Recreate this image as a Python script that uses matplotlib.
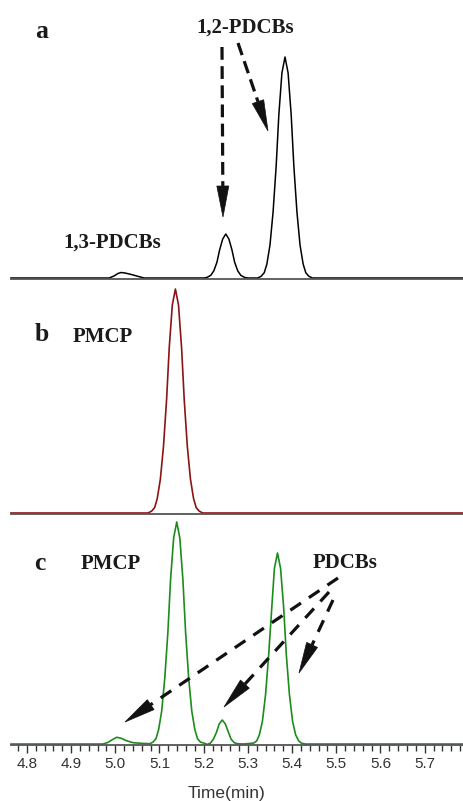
import matplotlib
matplotlib.use("Agg")
import matplotlib.pyplot as plt
from matplotlib.lines import Line2D
from matplotlib.patches import Polygon
from matplotlib.ticker import MultipleLocator
import numpy as np

W, H = 464, 801

# trace a: 1,3-PDCBs and 1,2-PDCBs standard
t_a = [4.764, 4.986, 4.997, 5.006, 5.013, 5.022, 5.038, 5.051, 5.065,
       5.200, 5.207, 5.216, 5.223, 5.230, 5.236, 5.243, 5.250, 5.257, 5.264,
       5.270, 5.277, 5.284, 5.293, 5.300,
       5.322, 5.330, 5.337, 5.343, 5.350, 5.357, 5.364, 5.370, 5.377, 5.384,
       5.391, 5.398, 5.404, 5.411, 5.418, 5.425, 5.431, 5.438, 5.446, 5.789]
sig_a = [0, 0, 2, 4.5, 5.5, 5, 3.3, 1.7, 0,
         0, 0.5, 2.6, 7.2, 15.8, 28, 39, 44, 39, 28,
         15.8, 7.2, 2.6, 0.5, 0,
         0, 1.7, 5.3, 14, 33, 66, 112, 163, 205, 221,
         205, 163, 112, 66, 33, 14, 5.3, 1.7, 0, 0]

# trace b: PMCP standard
t_b = [4.764, 5.074, 5.082, 5.089, 5.095, 5.102, 5.109, 5.116, 5.122, 5.129,
       5.136, 5.143, 5.150, 5.156, 5.163, 5.170, 5.177, 5.183, 5.190, 5.198, 5.789]
sig_b = [0, 0, 1.8, 5.4, 14.6, 34, 66.5, 113, 165, 208,
         224, 208, 165, 113, 66.5, 34, 14.6, 5.4, 1.8, 0, 0]

# trace c: mixture
t_c = [4.764, 4.972, 4.983, 4.992, 5.003, 5.013, 5.024, 5.040, 5.062, 5.078,
       5.085, 5.092, 5.098, 5.105, 5.112, 5.119, 5.125, 5.132, 5.139,
       5.146, 5.153, 5.159, 5.166, 5.173, 5.180, 5.186, 5.193,
       5.200, 5.208, 5.215, 5.222, 5.229, 5.235, 5.242, 5.249, 5.256,
       5.262, 5.269, 5.276, 5.290,
       5.313, 5.320, 5.326, 5.333, 5.340, 5.347, 5.354, 5.360, 5.367,
       5.374, 5.381, 5.387, 5.394, 5.401, 5.408, 5.415, 5.421, 5.430, 5.789]
sig_c = [0, 0, 1.5, 4, 6.7, 5.8, 3.5, 1.3, 0.6, 0.3,
         1.8, 5.3, 14.4, 33, 66, 112, 164, 206, 222,
         206, 164, 112, 66, 33, 14.4, 5.3, 1.8,
         1.0, -0.4, 0.8, 4.8, 11.7, 20, 24, 20, 11.7,
         4.8, 1.3, 0.3, 0,
         0.9, 3.1, 9.2, 23, 49.5, 89, 136, 175.5, 191,
         175.5, 136, 89, 49.5, 23, 9.2, 3.1, 0.9, 0, 0]

tick_labels = ["4.8", "4.9", "5.0", "5.1", "5.2", "5.3", "5.4", "5.5", "5.6", "5.7"]

fig = plt.figure(figsize=(W / 100, H / 100), dpi=100)


def fx(x):
    return x / W


def fy(y):
    return 1 - y / H


def make_axes(top, base):
    # axes spans pixel rows top..base+1, data y = pixels above baseline
    h = base + 1 - top
    ax = fig.add_axes([fx(11), fy(base + 1), fx(W - 11), h / H])
    ax.set_xlim(4.764, 5.789)
    ax.set_ylim(-1, h - 1)
    for s in ["top", "left", "right"]:
        ax.spines[s].set_visible(False)
    ax.spines["bottom"].set_color("#555555")
    ax.spines["bottom"].set_linewidth(1.3)
    ax.set_yticks([])
    return ax


ax_a = make_axes(20, 278)
ax_b = make_axes(280, 513)
ax_c = make_axes(515, 744)

ax_a.plot(t_a, sig_a, color="black", lw=1.1, clip_on=False)
ax_b.plot(t_b, sig_b, color="#8b1414", lw=1.2, clip_on=False)
ax_c.plot(t_c, sig_c, color="#1c8c1c", lw=1.2, clip_on=False)

for ax in [ax_a, ax_b]:
    ax.set_xticks([])

ax_c.set_xticks([4.8 + 0.1 * i for i in range(len(tick_labels))])
ax_c.set_xticklabels(tick_labels, family="Liberation Sans", fontsize=11, color="#333333")
ax_c.xaxis.set_minor_locator(MultipleLocator(0.02))
ax_c.tick_params(axis="x", which="major", length=6, width=1, color="#333333", pad=3)
ax_c.tick_params(axis="x", which="minor", length=4.5, width=1, color="#333333")

fig.text(fx(227), fy(798), "Time(min)", family="Liberation Sans", fontsize=12.5,
         color="#333333", ha="center", va="baseline")

# panel letters and labels
serif = dict(family="Liberation Serif", weight="bold", color="#1a1a1a", va="baseline")
fig.text(fx(35), fy(38), "a", fontsize=18.5, **serif)
fig.text(fx(35), fy(341), "b", fontsize=18.5, **serif)
fig.text(fx(34), fy(570), "c", fontsize=18.5, **serif)
fig.text(fx(245), fy(33), "1,2-PDCBs", fontsize=15, ha="center", **serif)
fig.text(fx(112), fy(248), "1,3-PDCBs", fontsize=15, ha="center", **serif)
fig.text(fx(103), fy(342), "PMCP", fontsize=15, ha="center", **serif)
fig.text(fx(111), fy(569), "PMCP", fontsize=15, ha="center", **serif)
fig.text(fx(345), fy(568), "PDCBs", fontsize=15, ha="center", **serif)


def dashed_arrow(tail, tip, head_len=31, head_w=12, dash=(4, 2)):
    tail = np.array(tail, float)
    tip = np.array(tip, float)
    d = tip - tail
    d = d / np.hypot(*d)
    n = np.array([-d[1], d[0]])
    base = tip - d * head_len
    fig.add_artist(Line2D([fx(tail[0]), fx(base[0])], [fy(tail[1]), fy(base[1])],
                          color="#111111", lw=2.3, linestyle=(0, dash),
                          solid_capstyle="butt", dash_capstyle="butt"))
    pts = [tip, base + n * head_w / 2, base - n * head_w / 2]
    fig.add_artist(Polygon([(fx(p[0]), fy(p[1])) for p in pts], closed=True,
                           facecolor="#111111", edgecolor="#111111", lw=0.5))


dashed_arrow((222, 47), (223, 217))
dashed_arrow((238, 43), (268, 131))
dashed_arrow((338, 578), (125, 722), dash=(4, 3))
dashed_arrow((329, 592), (224, 707), dash=(4, 3))
dashed_arrow((333, 600), (299, 673), dash=(4, 3))

fig.savefig("out.png", dpi=100)
